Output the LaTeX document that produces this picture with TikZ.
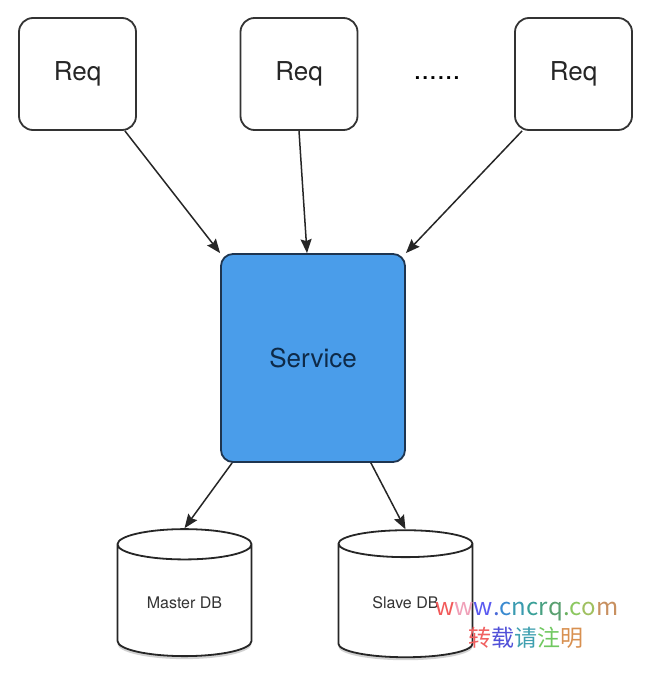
\documentclass[tikz,border=0pt]{standalone}
\usepackage{fontspec}
\setmainfont{TeX Gyre Heros}
\newfontfamily\cjk{Noto Sans CJK SC}
\usetikzlibrary{shapes.geometric, arrows.meta, shadows}

\definecolor{servblue}{HTML}{4A9DEA}
\definecolor{servline}{HTML}{1E3550}
\definecolor{servtext}{HTML}{0E2A48}

\begin{document}
\begin{tikzpicture}[x=1pt, y=-1pt]
        % Setup the styles for the boxes and arrows
        \tikzset{req style/.style={draw=black!80,
                                   line width=1.8pt,
                                   rounded corners=14pt,
                                   minimum width=117pt,
                                   minimum height=112pt,
                                   text=black!85,
                                   font=\fontsize{26}{30}\selectfont},
                 service style/.style={draw=servline,
                                       fill=servblue,
                                       line width=1.8pt,
                                       rounded corners=12pt,
                                       minimum width=184pt,
                                       minimum height=208pt,
                                       text=servtext,
                                       font=\fontsize{26}{30}\selectfont},
                 db style/.style={cylinder,
                                  shape border rotate=90,
                                  aspect=0.37,
                                  draw=black!85,
                                  fill=white,
                                  line width=1.8pt,
                                  minimum width=134pt,
                                  minimum height=127pt,
                                  text=black!80,
                                  font=\fontsize{16}{19}\selectfont,
                                  drop shadow={shadow xshift=0pt, shadow yshift=-3pt, fill=black!35}},
                 arrow style/.style={line width=1.5pt,
                                     draw=black!85,
                                     -{Stealth[length=14pt, width=11pt, inset=2pt]}}}
        \useasboundingbox (0,0) rectangle (651,677);

        % Draw the nodes
        \node[req style] at (77.5,74) (req1) {Req};
        \node[req style] at (299,74) (req2) {Req};
        \node[req style] at (573.5,74) (req3) {Req};
        \node[font=\fontsize{28}{30}\selectfont] at (437,78) (dots) {......};
        \node[service style] at (313,358) (service) {Service};
        \node[db style] at (184.5,603) (master) {Master DB};
        \node[db style] at (405.5,603) (slave) {Slave DB};

        % Watermark
        \node[font=\cjk\fontsize{24}{28}\selectfont, inner sep=0pt] at (527,612) (site)
            {\textcolor[HTML]{F25A5A}{w}\textcolor[HTML]{F0A0B8}{w}\textcolor[HTML]{5A5AF0}{w}\textcolor[HTML]{4A6AD8}{.}\textcolor[HTML]{3A8AD0}{c}\textcolor[HTML]{3A9AB0}{n}\textcolor[HTML]{3AA098}{c}\textcolor[HTML]{48A080}{r}\textcolor[HTML]{5AA070}{q}\textcolor[HTML]{6AB060}{.}\textcolor[HTML]{8CC860}{c}\textcolor[HTML]{A0C060}{o}\textcolor[HTML]{C89060}{m}};
        \node[font=\cjk\fontsize{23}{28}\selectfont, inner sep=0pt] at (526,638) (note)
            {\textcolor[HTML]{F06060}{转}\textcolor[HTML]{5050D8}{载}\textcolor[HTML]{40A0B0}{请}\textcolor[HTML]{70C860}{注}\textcolor[HTML]{D89050}{明}};

        % Connect the nodes with arrows
        \path
            ([xshift=-12pt]req1.south east)    edge[arrow style]   (service.north west)
            (req2.south)                        edge[arrow style]   ([xshift=-6pt]service.north)
            ([xshift=8pt]req3.south west)      edge[arrow style]   (service.north east)
            ([xshift=12pt]service.south west)  edge[arrow style]   (master.north)
            ([xshift=-35pt]service.south east) edge[arrow style]   (slave.north);
\end{tikzpicture}
\end{document}
